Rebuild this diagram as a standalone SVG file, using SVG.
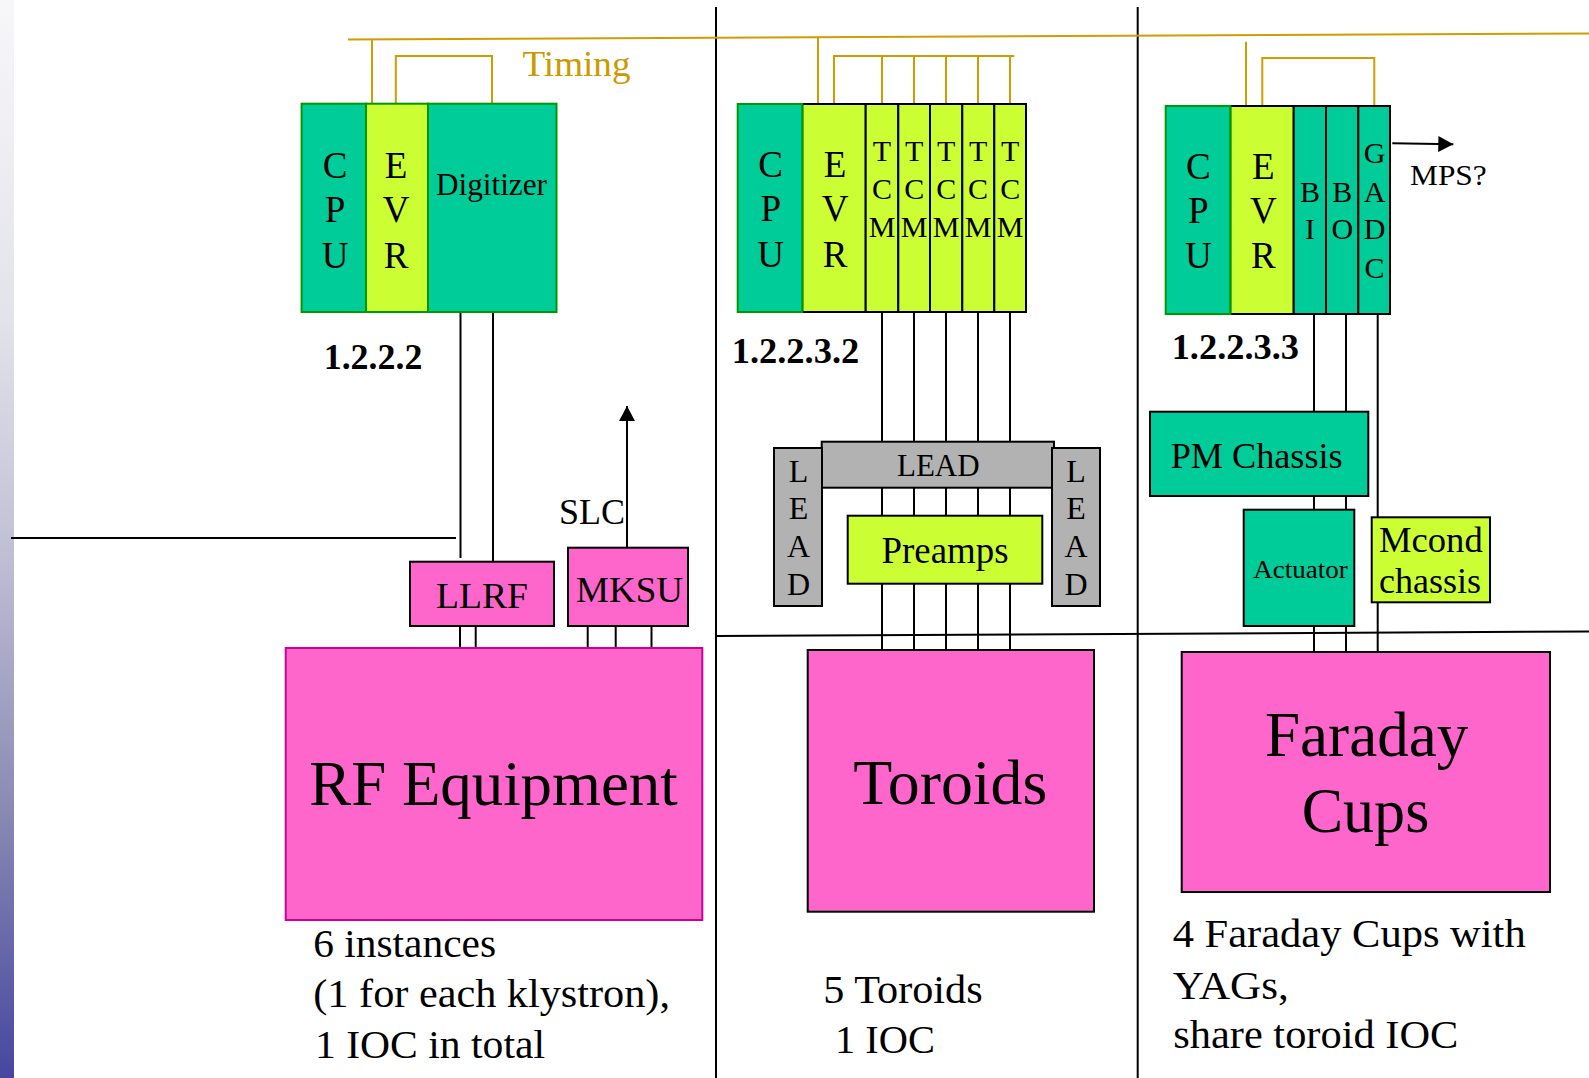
<svg xmlns="http://www.w3.org/2000/svg" width="1589" height="1078" viewBox="0 0 1589 1078" font-family="'Liberation Serif', 'Times New Roman', Times, serif">
<style>
text{font-family:'Liberation Serif','Times New Roman',Times,serif;fill:#000}
.c{text-anchor:middle}
.g{fill:#00cc99;stroke:#009900;stroke-width:2}
.gb{fill:#00cc99;stroke:#000;stroke-width:2}
.y{fill:#ccff33;stroke:#000;stroke-width:2}
.yg{fill:#ccff33;stroke:#009900;stroke-width:2}
.p{fill:#ff66cc;stroke:#000;stroke-width:2}
.gr{fill:#b2b2b2;stroke:#000;stroke-width:2}
.w{stroke:#000;stroke-width:2;fill:none}
.t{stroke:#d09c00;stroke-width:2;fill:none}
.f37{font-size:37px}
.f30{font-size:30px}
.f32{font-size:32px}
.f36{font-size:36px}
.f40{font-size:40px}
.f64{font-size:64px}
.b{font-weight:bold;font-size:36px}
</style>
<defs>
<linearGradient id="bar" x1="0" y1="0" x2="0" y2="1">
<stop offset="0" stop-color="#f7f7fa"/>
<stop offset="0.3" stop-color="#e2e2ea"/>
<stop offset="0.5" stop-color="#c2c2d6"/>
<stop offset="0.75" stop-color="#8a8ab4"/>
<stop offset="1" stop-color="#4646a0"/>
</linearGradient>
<marker id="arr" markerUnits="userSpaceOnUse" markerWidth="16" markerHeight="16" refX="15" refY="8" orient="auto" viewBox="0 0 16 16">
<path d="M0,0 L15,8 L0,16 z" fill="#000"/>
</marker>
</defs>
<rect x="0" y="0" width="1589" height="1078" fill="#fff"/>
<rect x="0" y="0" width="14" height="1078" fill="url(#bar)"/>

<g id="dividers">
<line class="w" x1="716" y1="7" x2="716" y2="1078"/>
<line class="w" x1="1137.7" y1="7" x2="1137.7" y2="1078"/>
<line class="w" x1="716" y1="636" x2="1589" y2="631.5"/>
<line class="w" x1="11" y1="538" x2="456" y2="538"/>
</g>

<g id="connectors">
<line class="t" x1="348" y1="39.5" x2="1589" y2="33.5"/>
<line class="t" x1="372" y1="39.3" x2="372" y2="104"/>
<polyline class="t" points="395.8,104 395.8,56 492,56 492,104"/>
<line class="t" x1="818" y1="37.4" x2="818" y2="104"/>
<polyline class="t" points="834,104 834,56 1014.3,56"/>
<line class="t" x1="882" y1="56" x2="882" y2="104"/>
<line class="t" x1="914" y1="56" x2="914" y2="104"/>
<line class="t" x1="946" y1="56" x2="946" y2="104"/>
<line class="t" x1="978" y1="56" x2="978" y2="104"/>
<line class="t" x1="1010" y1="56" x2="1010" y2="104"/>
<line class="t" x1="1246" y1="41.7" x2="1246" y2="106"/>
<polyline class="t" points="1262.3,106 1262.3,58 1374.3,58 1374.3,106"/>
<line class="w" x1="460.5" y1="312" x2="460.5" y2="558"/>
<line class="w" x1="493" y1="312" x2="493" y2="561.7"/>
<line class="w" x1="460" y1="626" x2="460" y2="648"/>
<line class="w" x1="475.7" y1="626" x2="475.7" y2="648"/>
<line class="w" x1="587.7" y1="626" x2="587.7" y2="648"/>
<line class="w" x1="615.7" y1="626" x2="615.7" y2="651.7"/>
<line class="w" x1="651.5" y1="620.7" x2="651.5" y2="650"/>
<line class="w" x1="627" y1="551.7" x2="627" y2="406" marker-end="url(#arr)"/>
<line class="w" x1="882" y1="312" x2="882" y2="650"/>
<line class="w" x1="914" y1="312" x2="914" y2="650"/>
<line class="w" x1="946" y1="312" x2="946" y2="650"/>
<line class="w" x1="978" y1="312" x2="978" y2="650"/>
<line class="w" x1="1010" y1="312" x2="1010" y2="650"/>
<line class="w" x1="1314" y1="314" x2="1314" y2="652"/>
<line class="w" x1="1346" y1="314" x2="1346" y2="652"/>
<line class="w" x1="1377.7" y1="314" x2="1377.7" y2="652"/>
<line class="w" x1="1392.3" y1="143.3" x2="1453.3" y2="144.3" marker-end="url(#arr)"/>
</g>

<g id="ioc-rf">
<rect class="g" x="301.6" y="103.7" width="64.4" height="208.3"/>
<rect class="yg" x="366" y="103.7" width="62" height="208.3"/>
<rect class="g" x="428" y="103.7" width="128.5" height="208.3"/>
<text class="c f37" x="335" y="178">C</text>
<text class="c f37" x="335" y="222">P</text>
<text class="c f37" x="335" y="268">U</text>
<text class="c f37" x="396" y="178">E</text>
<text class="c f37" x="396" y="222">V</text>
<text class="c f37" x="396" y="268">R</text>
<text x="436" y="195" font-size="31" textLength="111" lengthAdjust="spacingAndGlyphs">Digitizer</text>
<text class="b" x="323.7" y="369" textLength="98.7" lengthAdjust="spacingAndGlyphs">1.2.2.2</text>
</g>

<g id="timing-label">
<text x="522.5" y="76" font-size="36" style="fill:#cc9900" textLength="108" lengthAdjust="spacingAndGlyphs">Timing</text>
</g>

<g id="llrf">
<rect class="p" x="410" y="561.7" width="144" height="64.3"/>
<text class="c f36" x="482" y="607.7" textLength="92" lengthAdjust="spacingAndGlyphs">LLRF</text>
</g>
<g id="mksu">
<rect class="p" x="568" y="547.7" width="120" height="78.3"/>
<text class="c f36" x="629.5" y="601.7" textLength="107" lengthAdjust="spacingAndGlyphs">MKSU</text>
</g>
<g id="slc-label">
<text class="f36" x="559" y="524" textLength="66" lengthAdjust="spacingAndGlyphs">SLC</text>
</g>
<g id="rf-equipment">
<rect x="285.7" y="648" width="416.6" height="272" fill="#ff66cc" stroke="#cc0099" stroke-width="2"/>
<text class="f64" x="309.3" y="805" textLength="368.4" lengthAdjust="spacingAndGlyphs">RF Equipment</text>
<text class="f40" x="313.3" y="956.7" textLength="182.7" lengthAdjust="spacingAndGlyphs">6 instances</text>
<text class="f40" x="313.3" y="1006.7" textLength="356.7" lengthAdjust="spacingAndGlyphs">(1 for each klystron),</text>
<text class="f40" x="315" y="1058.3" textLength="230" lengthAdjust="spacingAndGlyphs">1 IOC in total</text>
</g>

<g id="ioc-toroid">
<rect class="y" x="802.3" y="104" width="63.4" height="208"/>
<rect class="y" x="865.7" y="104" width="32.6" height="208"/>
<rect class="y" x="898.3" y="104" width="31.7" height="208"/>
<rect class="y" x="930" y="104" width="32.3" height="208"/>
<rect class="y" x="962.3" y="104" width="32" height="208"/>
<rect class="y" x="994.3" y="104" width="31.7" height="208"/>
<rect class="g" x="737.7" y="104" width="64.6" height="208"/>
<text class="c f37" x="770.7" y="176.7">C</text>
<text class="c f37" x="770.7" y="221">P</text>
<text class="c f37" x="770.7" y="266.7">U</text>
<text class="c f37" x="835" y="176.7">E</text>
<text class="c f37" x="835" y="221">V</text>
<text class="c f37" x="835" y="266.7">R</text>
<g class="f30">
<text class="c" x="882" y="161">T</text><text class="c" x="882" y="199.3">C</text><text class="c" x="882" y="237.3">M</text>
<text class="c" x="914.2" y="161">T</text><text class="c" x="914.2" y="199.3">C</text><text class="c" x="914.2" y="237.3">M</text>
<text class="c" x="946.2" y="161">T</text><text class="c" x="946.2" y="199.3">C</text><text class="c" x="946.2" y="237.3">M</text>
<text class="c" x="978.1" y="161">T</text><text class="c" x="978.1" y="199.3">C</text><text class="c" x="978.1" y="237.3">M</text>
<text class="c" x="1010.2" y="161">T</text><text class="c" x="1010.2" y="199.3">C</text><text class="c" x="1010.2" y="237.3">M</text>
</g>
<text class="b" x="731.7" y="363.3" textLength="127.6" lengthAdjust="spacingAndGlyphs">1.2.2.3.2</text>
</g>

<g id="lead-top">
<rect class="gr" x="821.7" y="441.7" width="232.3" height="46"/>
<text class="c" x="938.3" y="476" font-size="31">LEAD</text>
</g>
<g id="lead-left">
<rect class="gr" x="774" y="448" width="48" height="158"/>
<text class="c f32" x="798.5" y="481.7">L</text>
<text class="c f32" x="798.5" y="519.3">E</text>
<text class="c f32" x="798.5" y="557.3">A</text>
<text class="c f32" x="798.5" y="595">D</text>
</g>
<g id="lead-right">
<rect class="gr" x="1052" y="448" width="48" height="158"/>
<text class="c f32" x="1076" y="481.7">L</text>
<text class="c f32" x="1076" y="519.3">E</text>
<text class="c f32" x="1076" y="557.3">A</text>
<text class="c f32" x="1076" y="595">D</text>
</g>
<g id="preamps">
<rect class="y" x="847.7" y="515.7" width="194.6" height="68"/>
<text class="c f37" x="945" y="563.3" textLength="127" lengthAdjust="spacingAndGlyphs">Preamps</text>
</g>
<g id="toroids">
<rect class="p" x="807.7" y="650" width="286.3" height="261.7"/>
<text class="f64" x="853.3" y="804" textLength="194" lengthAdjust="spacingAndGlyphs">Toroids</text>
<text class="f40" x="823.3" y="1003.3" textLength="159.3" lengthAdjust="spacingAndGlyphs">5 Toroids</text>
<text class="f40" x="835" y="1053.3" textLength="100" lengthAdjust="spacingAndGlyphs">1 IOC</text>
</g>

<g id="ioc-faraday">
<rect class="y" x="1230.3" y="106" width="63.4" height="208"/>
<rect class="gb" x="1293.7" y="106" width="32.3" height="208"/>
<rect class="gb" x="1326" y="106" width="32.3" height="208"/>
<rect class="gb" x="1358.3" y="106" width="31.7" height="208"/>
<rect class="g" x="1165.7" y="106" width="64.6" height="208"/>
<text class="c f37" x="1198.3" y="179">C</text>
<text class="c f37" x="1198.3" y="223.3">P</text>
<text class="c f37" x="1198.3" y="267.7">U</text>
<text class="c f37" x="1263.3" y="179">E</text>
<text class="c f37" x="1263.3" y="223.3">V</text>
<text class="c f37" x="1263.3" y="267.7">R</text>
<g class="f30">
<text class="c" x="1310" y="201.7">B</text><text class="c" x="1310" y="239.3">I</text>
<text class="c" x="1342.3" y="201.7">B</text><text class="c" x="1342.3" y="239.3">O</text>
<text class="c" x="1374.5" y="163.3">G</text><text class="c" x="1374.5" y="201.7">A</text><text class="c" x="1374.5" y="239.3">D</text><text class="c" x="1374.5" y="277.7">C</text>
</g>
<text class="b" x="1171.7" y="359.3" textLength="127.3" lengthAdjust="spacingAndGlyphs">1.2.2.3.3</text>
</g>
<g id="mps-label">
<text x="1410" y="185" font-size="30" textLength="76.7" lengthAdjust="spacingAndGlyphs">MPS?</text>
</g>
<g id="pm-chassis">
<rect class="gb" x="1150" y="411.7" width="218.3" height="84.3"/>
<text class="f36" x="1170.7" y="467.7" textLength="172" lengthAdjust="spacingAndGlyphs">PM Chassis</text>
</g>
<g id="actuator">
<rect class="gb" x="1243.7" y="509.7" width="110.6" height="116.3"/>
<text class="c" x="1300.5" y="578.3" font-size="26" textLength="94.4" lengthAdjust="spacingAndGlyphs">Actuator</text>
</g>
<g id="mcond">
<rect class="y" x="1371.7" y="517.3" width="118.3" height="85"/>
<text class="f36" x="1379" y="551.7" textLength="103.7" lengthAdjust="spacingAndGlyphs">Mcond</text>
<text class="f36" x="1379" y="593.3" textLength="102" lengthAdjust="spacingAndGlyphs">chassis</text>
</g>
<g id="faraday">
<rect class="p" x="1181.7" y="652" width="368.3" height="240"/>
<text class="f64" x="1265" y="755.7" textLength="203.3" lengthAdjust="spacingAndGlyphs">Faraday</text>
<text class="f64" x="1301.7" y="831.7" textLength="127.6" lengthAdjust="spacingAndGlyphs">Cups</text>
<text class="f40" x="1172.7" y="947.3" textLength="353" lengthAdjust="spacingAndGlyphs">4 Faraday Cups with</text>
<text class="f40" x="1172.7" y="999.3" textLength="116" lengthAdjust="spacingAndGlyphs">YAGs,</text>
<text class="f40" x="1173.3" y="1048.3" textLength="285" lengthAdjust="spacingAndGlyphs">share toroid IOC</text>
</g>
</svg>
